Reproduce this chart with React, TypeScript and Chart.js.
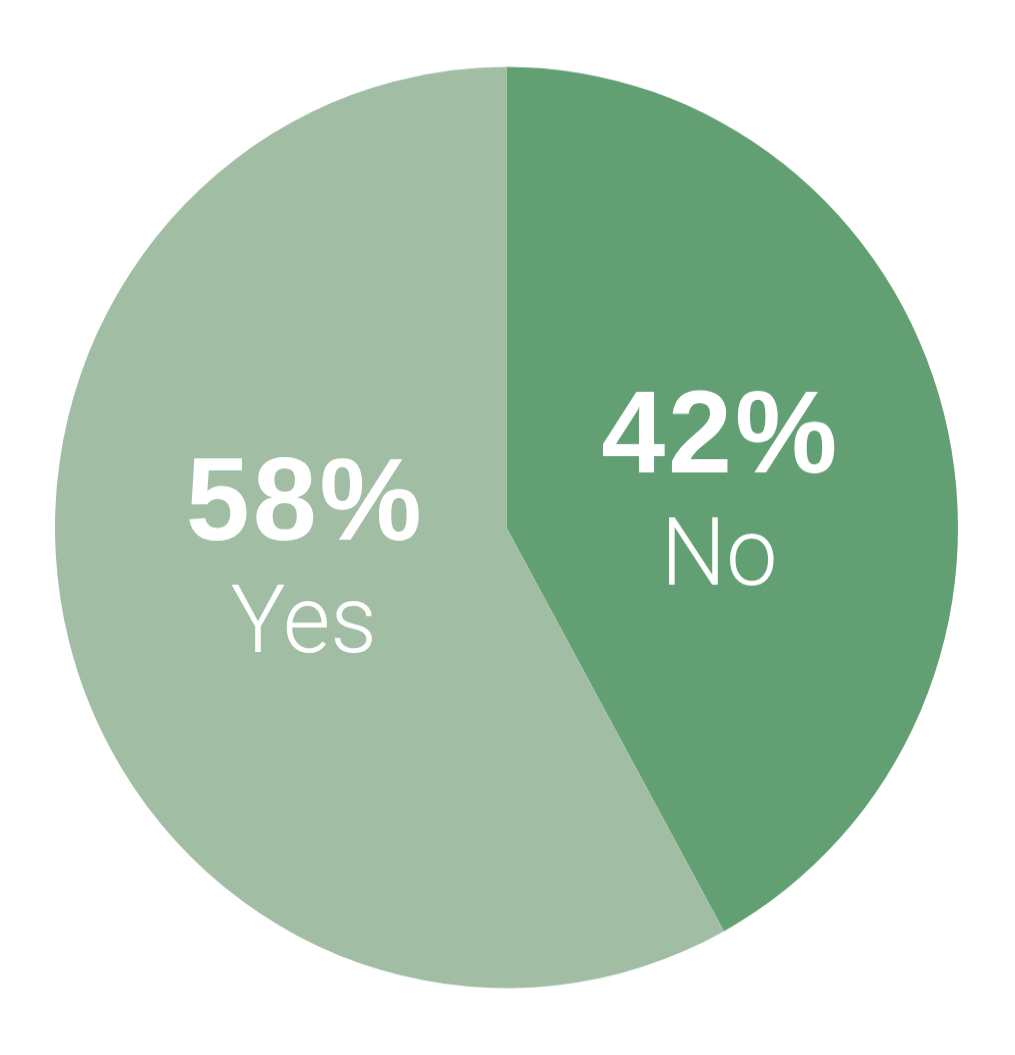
import React, { useEffect, useRef } from "react";
import { Chart, registerables } from "chart.js";

Chart.register(...registerables);

const categories = ["No", "Yes"];
const values = [42, 58];
const colors = ["#62A074", "#A1BEA5"];

const labelPlugin = {
  id: "sliceLabels",
  afterDatasetsDraw(chart: any) {
    const ctx = chart.ctx;
    const meta = chart.getDatasetMeta(0);
    const total = values.reduce((a, b) => a + b, 0);
    meta.data.forEach((arc: any, i: number) => {
      const p = arc.getProps(["x", "y", "startAngle", "endAngle", "outerRadius"], true);
      const mid = (p.startAngle + p.endAngle) / 2;
      const r = p.outerRadius * 0.475;
      const x = p.x + Math.cos(mid) * r + 5;
      const y = p.y + Math.sin(mid) * r * 0.62;
      const pct = Math.round((values[i] / total) * 100) + "%";
      ctx.save();
      ctx.fillStyle = "#ffffff";
      ctx.textAlign = "center";
      ctx.textBaseline = "alphabetic";
      ctx.font = "bold 115px 'Liberation Sans', Arial, sans-serif";
      (ctx as any).letterSpacing = "3px";
      ctx.fillText(pct, x + 1.5, y - 21);
      (ctx as any).letterSpacing = "0px";
      ctx.font = "300 92px Roboto, 'Liberation Sans', sans-serif";
      ctx.fillText(categories[i], x, y + 89);
      ctx.restore();
    });
  },
};

export default function App() {
  const ref = useRef<HTMLCanvasElement | null>(null);
  useEffect(() => {
    if (!ref.current) return;
    const chart = new Chart(ref.current, {
      type: "pie",
      data: {
        labels: categories,
        datasets: [
          {
            data: values,
            backgroundColor: colors,
            borderWidth: 0,
            hoverOffset: 0,
          },
        ],
      },
      options: {
        responsive: false,
        animation: false,
        layout: { padding: { left: 55, right: 57, top: 65.5, bottom: 65.5 } },
        plugins: {
          legend: { display: false },
          tooltip: { enabled: false },
        },
      },
      plugins: [labelPlugin],
    });
    return () => chart.destroy();
  }, []);
  return (
    <div style={{ position: "absolute", left: 0, top: 0, width: 1015, height: 1055, background: "#fff" }}>
      <canvas
        ref={ref}
        width={1015}
        height={1034}
        style={{ display: "block", width: "1015px", height: "1055px" }}
      />
    </div>
  );
}
